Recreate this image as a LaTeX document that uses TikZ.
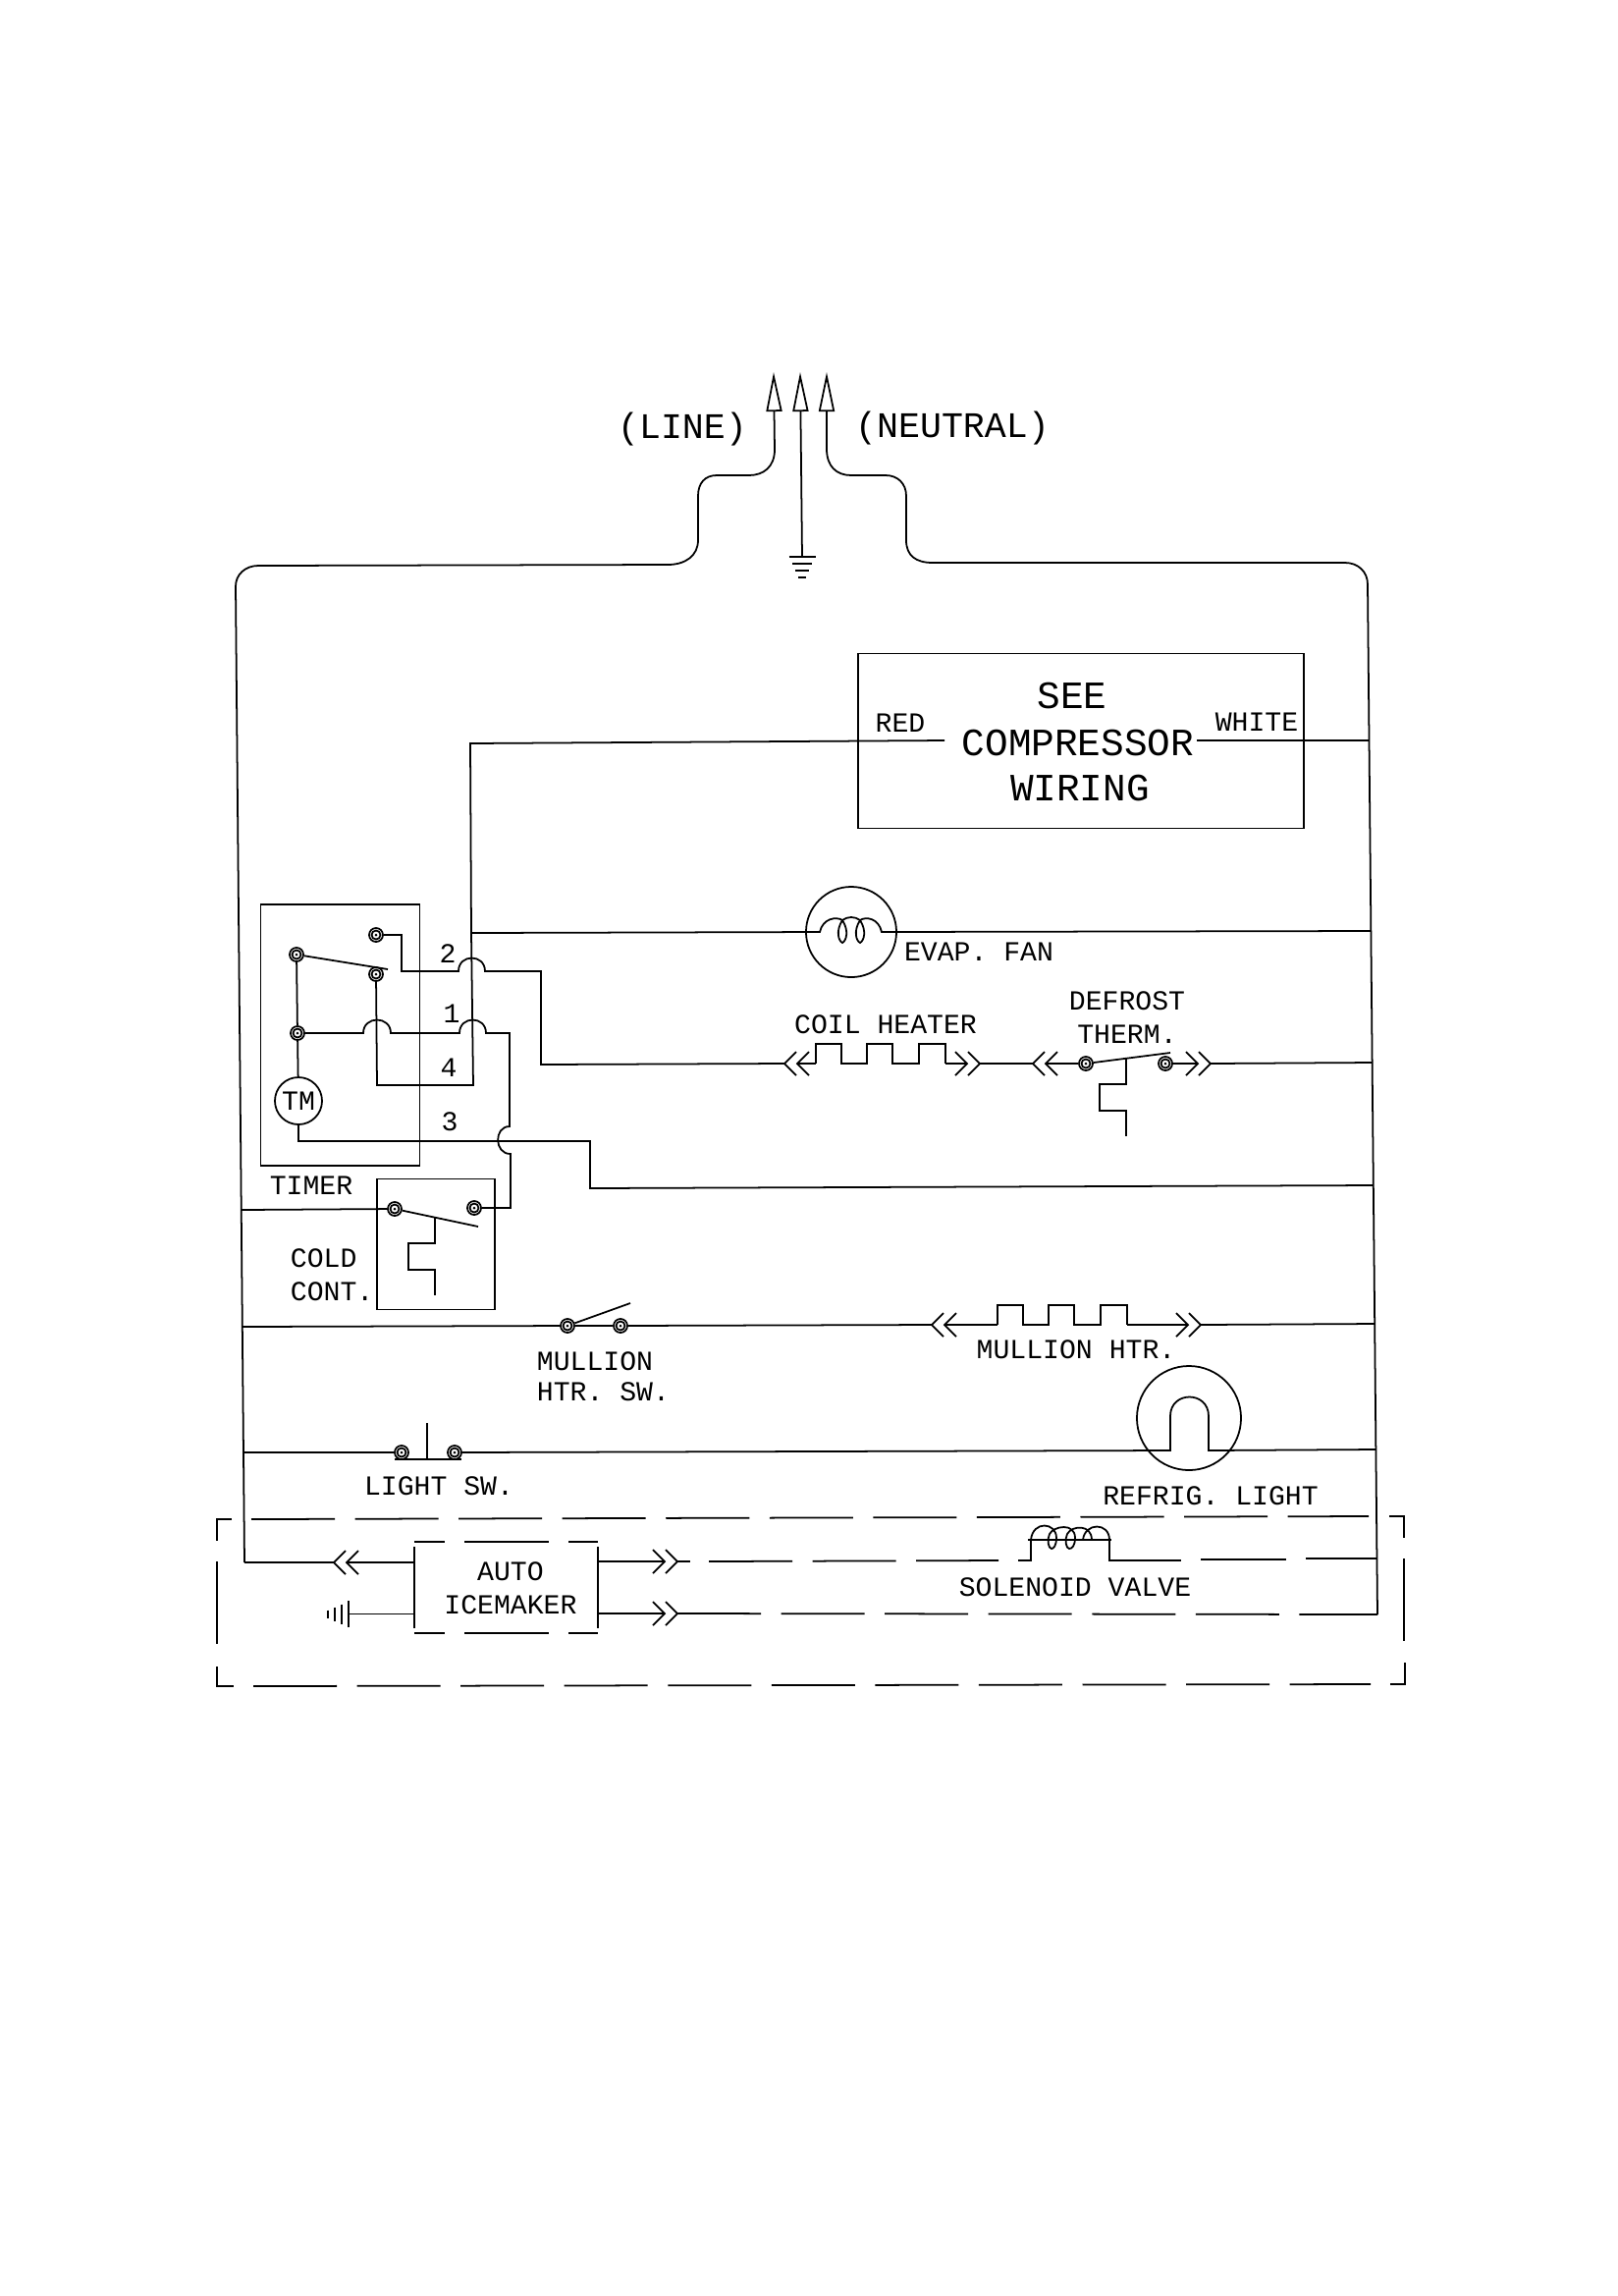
\documentclass[tikz,border=0pt]{standalone}
\usepackage{fontspec}
\setmainfont{Liberation Mono}
\usetikzlibrary{arrows.meta}

\tikzset{
  lab/.style={inner sep=0pt,font=\fontsize{8}{9.6}\selectfont},
  toplab/.style={inner sep=0pt,font=\fontsize{10.4}{12}\selectfont},
  biglab/.style={inner sep=0pt,font=\fontsize{11.2}{13.4}\selectfont},
  blockbox/.style={draw,inner sep=0pt,outer sep=0pt},
  term/.style={circle,draw,inner sep=0pt,minimum size=.14cm,
    path picture={\draw (path picture bounding box.center) circle (.045cm);
      \fill (path picture bounding box.center) circle (.015cm);}},
  dashwire/.style={dash pattern=on .85cm off .205cm},
  feed/.style={-{Triangle[open,length=.4cm,width=.16cm]}},
  plug/.pic={
    \draw (12,-12)--(0,0)--(12,12) (25,-12)--(13,0)--(25,12);
    \coordinate (-out) at (0,0);
    \coordinate (-in) at (13,0);
  },
  heater/.pic={
    \draw (0,0)--(0,-20)--(26,-20)--(26,0)--(52,0)--(52,-20)--(78,-20)--(78,0)--(105,0)--(105,-20)--(132,-20)--(132,0);
    \coordinate (-a) at (0,0);
    \coordinate (-b) at (132,0);
  },
  bimetal/.pic={\draw (0,0)--(0,26)--(-27,26)--(-27,53)--(0,53)--(0,79);},
  earth/.pic={
    \draw (-13.5,0)--(13.5,0) (-10,7)--(10,7) (-7,14)--(7,14) (-4,21)--(4,21);
  }
}

\begin{document}
\begin{tikzpicture}[x=.01cm,y=-.01cm,line width=.5pt]
\useasboundingbox (0,0) rectangle (1648,2338);

% bus ends and junctions
\path
(240,597)    coordinate (lbtop)
(249,1591)   coordinate (lbend)
(245.7,1232) coordinate (lbcold)
(246.8,1351) coordinate (lbmull)
(248,1479)   coordinate (lblight)
(1393,595)   coordinate (rbtop)
(1403,1644)  coordinate (rbend)
(1394.5,754) coordinate (rbcomp)
(1396.4,948) coordinate (rbfan)
(1397.6,1082) coordinate (rbtherm)
(1398.8,1207) coordinate (rbret)
(1400.2,1348) coordinate (rbmull)
(1401.4,1476) coordinate (rblight)
(1402.5,1587) coordinate (rbsol)
(788,379)    coordinate (linetip)
(815,379)    coordinate (gndtip)
(842,379)    coordinate (neuttip)
(817,567)    coordinate (gnd)
(480,950)    coordinate (fanjoin);

% line, neutral, ground
\draw[feed] (lbtop) .. controls (240,585) and (250,576) .. (263,576) -- (680,575)
  .. controls (698,575) and (711,566) .. (711,550) -- (711,505)
  .. controls (711,492) and (718,484) .. (730,484) -- (763,484)
  .. controls (778,484) and (789,475) .. (789,458) -- (linetip);
\draw[feed] (rbtop) .. controls (1393,582) and (1383,573) .. (1370,573) -- (950,573)
  .. controls (933,573) and (923,566) .. (923,550) -- (923,505)
  .. controls (923,492) and (914,484) .. (902,484) -- (867,484)
  .. controls (852,484) and (842,475) .. (842,457) -- (neuttip);
\draw[feed] (gnd) -- (gndtip);
\pic at (gnd) {earth};
\draw (lbtop) -- (lbend);
\draw (rbtop) -- (rbend);
\path
(695,437) node[toplab] (linelab) {(LINE)}
(970,436) node[toplab] (neutlab) {(NEUTRAL)};

% compressor
\node[blockbox,minimum width=4.54cm,minimum height=1.78cm] (comp) at (1101,754.5) {};
\path
(1092,708) node[biglab] (seelab) {SEE}
(1098,756) node[biglab] (complab) {COMPRESSOR}
(1100,802) node[biglab] (wirelab) {WIRING}
(917,736)  node[lab] (redlab) {RED}
(1280,735) node[lab] (whitelab) {WHITE}
(962,754)  coordinate (redend)
(1219,754) coordinate (whiteend);
\draw (whiteend) -- (rbcomp);

% timer
\node[blockbox,minimum width=1.62cm,minimum height=2.66cm] (timer) at (346.5,1054) {};
\path
(383,952)  node[term] (tmrA) {}
(302,972)  node[term] (tmrB) {}
(383,992)  node[term] (tmrC) {}
(303,1052) node[term] (tmrD) {}
(304,1121) node[circle,draw,inner sep=0pt,minimum size=.48cm,font=\fontsize{8}{9.6}\selectfont] (TM) {TM}
(456,971)  node[lab] (num2) {2}
(460,1032) node[lab] (num1) {1}
(457,1087) node[lab] (num4) {4}
(458,1142) node[lab] (num3) {3}
(317,1207) node[lab] (timerlab) {TIMER};
\draw (tmrB) -- (395,987);
\draw (tmrB) -- (tmrD);
\draw (tmrD) -- (TM);
\draw (tmrC) -- (384,1105) -- (482,1105) -- (fanjoin) -- (479,757) -- (redend);
\draw (TM) -- (304,1162) -- (601,1162) -- (601,1210) -- (rbret);

% cold control
\node[blockbox,minimum width=1.2cm,minimum height=1.33cm] (cold) at (444,1267) {};
\path
(402,1231) node[term] (coldA) {}
(483,1230) node[term] (coldB) {}
(295,1298.5) node[lab,anchor=west,align=left] (coldlab) {COLD\\CONT.};
\draw (lbcold) -- (coldA);
\draw (coldA) -- (487,1249);
\pic at (443,1240) {bimetal};
\draw (tmrD) -- (370,1052) .. controls (370,1034) and (398,1034) .. (398,1052) -- (468,1052)
  .. controls (468,1034) and (495,1034) .. (495,1052) -- (519,1052) -- (519,1147)
  .. controls (503,1147) and (503,1175) .. (520,1175) -- (520,1230) -- (coldB);

% evap fan
\node[circle,draw,inner sep=0pt,minimum size=.92cm] (fan) at (867,949) {};
\draw (fanjoin) -- (835,949) .. controls (838,935) and (852,933) .. (858,937)
  .. controls (863,933) and (871,933) .. (876,937)
  .. controls (882,933) and (895,935) .. (898,949) -- (rbfan);
\draw (858,937) .. controls (851,948) and (854,958) .. (858,960) .. controls (862,958) and (865,948) .. (858,937);
\draw (876,937) .. controls (869,948) and (872,958) .. (876,960) .. controls (880,958) and (883,948) .. (876,937);
\node[lab] (fanlab) at (997,969) {EVAP. FAN};

% coil heater and defrost thermostat
\pic (coilL) at (799,1083) {plug};
\pic (coil) at (831,1083) {heater};
\pic[xscale=-1] (coilR) at (998,1083) {plug};
\pic (thermL) at (1052,1083) {plug};
\pic[xscale=-1] (thermR) at (1233,1083) {plug};
\path
(1106,1083) node[term] (defA) {}
(1187,1083) node[term] (defB) {}
(902,1043)  node[lab] (coillab) {COIL HEATER}
(1148,1036) node[lab,align=center] (thermlab) {DEFROST\\THERM.};
\draw (tmrA) -- (409,952) -- (409,989) -- (467,989) .. controls (467,971) and (494,971) .. (494,989)
  -- (551,989) -- (551,1084) -- (coilL-out);
\draw (coilL-in) -- (coil-a);
\draw (coil-b) -- (coilR-in);
\draw (coilR-out) -- (thermL-out);
\draw (thermL-in) -- (defA);
\draw (defB) -- (thermR-in);
\draw (thermR-out) -- (rbtherm);
\draw (defA) -- (1192,1072);
\pic at (1147,1078) {bimetal};

% mullion heater
\path
(578,1350) node[term] (mulA) {}
(632,1350) node[term] (mulB) {}
(546,1402) node[lab,anchor=west,align=left] (mullswlab) {MULLION\\[-.8pt]HTR. SW.}
(1096,1374) node[lab] (mulllab) {MULLION HTR.};
\pic (mullL) at (949,1349) {plug};
\pic (mull) at (1016,1349) {heater};
\pic[xscale=-1] (mullR) at (1223,1349) {plug};
\draw (lbmull) -- (mulA);
\draw (mulA) -- (mulB);
\draw (mulA) -- (642,1327);
\draw (mulB) -- (mullL-out);
\draw (mullL-in) -- (mull-a);
\draw (mull-b) -- (mullR-in);
\draw (mullR-out) -- (rbmull);

% light
\path
(409,1479) node[term] (litA) {}
(463,1479) node[term] (litB) {}
(1211,1444) node[circle,draw,inner sep=0pt,minimum size=1.06cm] (lamp) {}
(447,1513) node[lab] (litswlab) {LIGHT SW.}
(1233,1523) node[lab] (lamplab) {REFRIG. LIGHT};
\draw (lblight) -- (litA);
\draw (402,1486) -- (470,1486);
\draw (435,1486) -- (435,1449);
\draw (litB) -- (1192,1477) -- (1192,1442) .. controls (1192,1416) and (1231,1416) .. (1231,1442)
  -- (1231,1477) -- (rblight);

% auto icemaker
\node[minimum width=1.87cm,minimum height=.93cm,inner sep=0pt,outer sep=0pt] (ice) at (515.5,1616.5) {};
\path
(520,1617.5) node[lab,align=center] (icelab) {AUTO\\ICEMAKER}
(1095,1616) node[lab] (sollab) {SOLENOID VALVE};
\draw[dashwire,dash phase=.54cm] (ice.north west) -- (ice.north east);
\draw[dashwire,dash phase=.54cm] (ice.south west) -- (ice.south east);
\draw[shorten <=.05cm,shorten >=.05cm] (ice.north west) -- (ice.south west);
\draw[shorten <=.05cm,shorten >=.05cm] (ice.north east) -- (ice.south east);
\pic (iceL) at (340,1591) {plug};
\pic[xscale=-1] (iceU) at (690,1590) {plug};
\pic[xscale=-1] (iceW) at (690,1643) {plug};
\pic[rotate=-90] at (355,1643.5) {earth};
\coordinate (icegnd) at (355,1643.5);
\draw (lbend) -- (iceL-out);
\draw (iceL-in) -- (iceL-in -| ice.west);
\draw (icegnd) -- (icegnd -| ice.west);
\draw (iceU-in -| ice.east) -- (iceU-in);
\draw (iceW-in -| ice.east) -- (iceW-in);
\draw[dashwire] (iceW-out) -- (rbend);

% solenoid
\draw (iceU-out) -- (703,1590);
\draw[dashwire] (722,1590) -- (1017,1589);
\draw (1037,1589) -- (1050,1589) -- (1050,1568) -- (1130,1568) -- (1130,1589) -- (1203,1589);
\draw (1047,1568) -- (1132,1568);
\draw (1050,1568) .. controls (1052,1548) and (1076,1550) .. (1076,1566) .. controls (1076,1574) and (1073,1577) .. (1071,1577)
  .. controls (1068,1577) and (1066,1568) .. (1069,1562) .. controls (1073,1554) and (1095,1550) .. (1095,1566)
  .. controls (1095,1574) and (1092,1577) .. (1089,1577) .. controls (1086,1577) and (1084,1568) .. (1087,1562)
  .. controls (1092,1553) and (1112,1552) .. (1112,1568);
\draw (1103,1568) .. controls (1105,1550) and (1130,1550) .. (1130,1568);
\draw (1223,1588) -- (1310,1588);
\draw (1330,1587) -- (rbsol);

% dashed enclosure
\draw (236,1547) -- (221,1547) -- (221,1569);
\draw (221,1590) -- (221,1674);
\draw (221,1697) -- (221,1717) -- (238,1717);
\draw (1415,1544) -- (1430,1544) -- (1430,1566);
\draw (1430,1587) -- (1430,1671);
\draw (1431,1693) -- (1431,1715) -- (1416,1715);
\draw[dashwire] (256,1547) -- (1394,1544);
\draw[dashwire] (258,1717) -- (1396,1715);

\end{tikzpicture}
\end{document}
